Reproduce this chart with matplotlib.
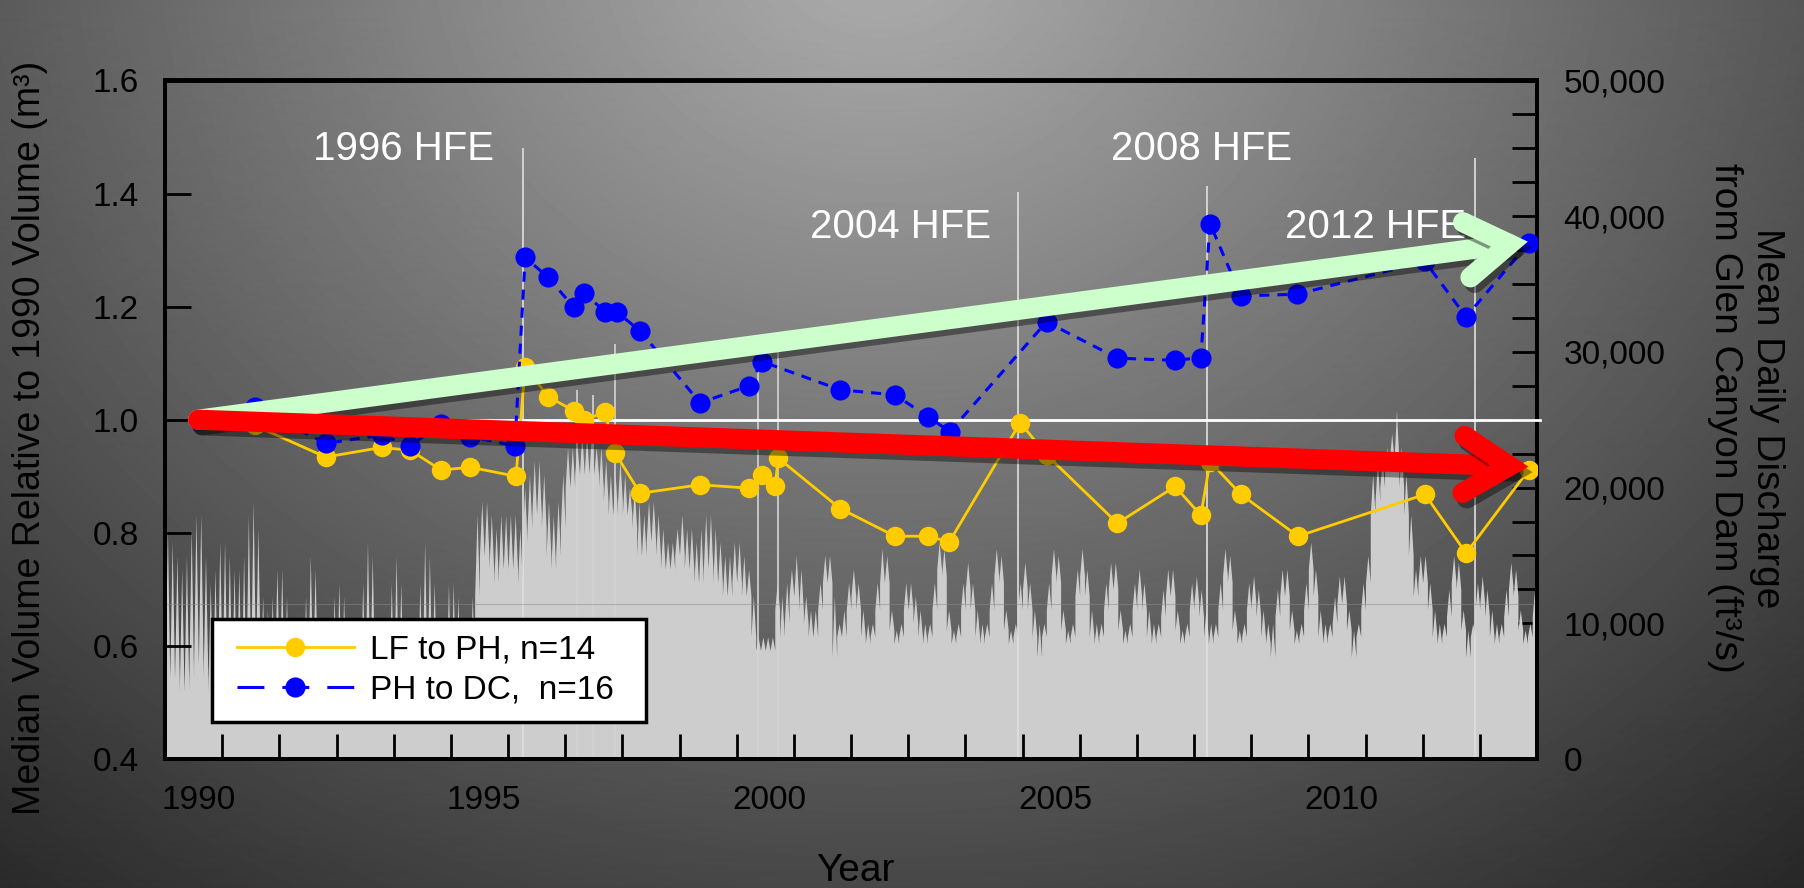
import numpy as np
import matplotlib.pyplot as plt
import matplotlib.patheffects as pe
from matplotlib.patches import FancyArrowPatch, Rectangle
from matplotlib.lines import Line2D
from matplotlib.ticker import FuncFormatter

plt.rcParams['font.family'] = ['Liberation Sans', 'DejaVu Sans']

# ---- median sand volume relative to 1990 ----
lf_ph_year = [1990.58, 1991.57, 1992.81, 1993.79, 1994.29, 1994.83, 1995.34, 1996.14, 1996.30,
              1996.70, 1997.15, 1997.33, 1997.70, 1997.87, 1998.31, 1999.36, 2000.22, 2000.44,
              2000.67, 2000.73, 2001.81, 2002.77, 2003.35, 2003.72, 2004.96, 2005.42, 2006.66,
              2007.67, 2008.12, 2008.28, 2008.82, 2009.82, 2012.04, 2012.76, 2013.86]
lf_ph_vol = [1.000, 0.990, 0.934, 0.951, 0.946, 0.911, 0.916, 0.900, 1.094,
             1.041, 1.016, 1.000, 1.013, 0.942, 0.870, 0.885, 0.879, 0.902,
             0.883, 0.932, 0.843, 0.794, 0.794, 0.784, 0.995, 0.938, 0.817,
             0.882, 0.831, 0.926, 0.868, 0.794, 0.868, 0.764, 0.912]

ph_dc_year = [1990.58, 1991.57, 1992.81, 1993.79, 1994.29, 1994.83, 1995.34, 1996.12, 1996.30,
              1996.70, 1997.15, 1997.33, 1997.70, 1997.90, 1998.31, 1999.36, 2000.22, 2000.44,
              2001.81, 2002.77, 2003.35, 2003.73, 2005.42, 2006.66, 2007.67, 2008.12, 2008.28,
              2008.82, 2009.81, 2012.04, 2012.76, 2013.86]
ph_dc_vol = [1.000, 1.023, 0.958, 0.973, 0.954, 0.993, 0.970, 0.954, 1.287,
             1.252, 1.199, 1.224, 1.191, 1.191, 1.157, 1.030, 1.060, 1.103,
             1.053, 1.044, 1.005, 0.979, 1.173, 1.109, 1.105, 1.110, 1.347,
             1.219, 1.222, 1.280, 1.182, 1.313]

# trend arrows (start / end in year, relative volume)
trend_start = (1990.58, 1.0)
trend_up_end = (2013.84, 1.315)
trend_down_end = (2013.85, 0.917)

# ---- Glen Canyon Dam discharge (1000 ft3/s), Jan..Dec of each year ----
# flow level held through each month
q_level_1990_1995 = [
    6, 6, 6, 5, 5, 6, 7, 7, 6, 5, 5, 6,               # 1990
    6, 6, 5, 5, 5, 6, 7, 7, 5, 5, 5, 6,               # 1991
    5, 5, 5, 5, 5, 5, 6, 6, 5, 5, 5, 5,               # 1992
    5, 5, 5, 5, 5, 5, 6, 6, 5, 5, 5, 5,               # 1993
    5, 5, 5, 5, 5, 5, 6, 6, 6, 5, 5, 5,               # 1994
    5, 5, 5, 5, 6, 12, 15, 15, 14, 13, 14, 14]        # 1995
q_level_1996_2001 = [
    14, 14, 13, 16, 17, 18, 18, 17, 15, 14, 15, 17,   # 1996
    20, 20, 21, 21, 21, 21, 21, 20, 19, 18, 18, 19,   # 1997
    18, 18, 17, 15, 15, 16, 16, 15, 14, 14, 14, 15,   # 1998
    15, 14, 14, 13, 13, 14, 14, 13, 13, 12, 12, 13,   # 1999
    13, 12, 12, 9, 8, 8, 8, 8, 11, 9, 10, 12,         # 2000
    12, 11, 10, 9, 9, 11, 13, 13, 7.5, 9, 9, 11]      # 2001
q_level_2002_2007 = [
    12, 11, 9, 8.5, 9, 11, 13, 13, 9.5, 8.5, 9, 11,      # 2002
    11, 10, 9, 8.5, 9, 11, 14, 13.5, 9.5, 8.5, 9, 11,    # 2003
    12.5, 11, 9, 8.5, 9, 11, 13.5, 13, 9.5, 8.5, 9, 11,  # 2004
    12.5, 11, 9, 7.5, 9, 11, 13.5, 13, 9.5, 8.5, 9, 12,  # 2005
    13.5, 12, 9, 8.5, 9, 11, 12.5, 12.5, 9.5, 8.5, 9, 11,  # 2006
    12, 11, 9, 8.5, 9, 10.5, 12, 12, 9.5, 8.5, 9, 11]    # 2007
q_level_2008_2013 = [
    11.5, 10.5, 9, 8.5, 9, 11, 13.5, 13, 9.5, 8.5, 9, 11,  # 2008
    11.5, 10.5, 9, 8.5, 7.5, 10.5, 12, 12, 9.5, 8.5, 9, 11,  # 2009
    14, 12, 9, 8.5, 9, 10, 11.5, 11.5, 9.5, 7.5, 9, 11,    # 2010
    13, 18, 19, 20, 21, 22, 22, 20, 18, 15, 12, 13,        # 2011
    13, 11, 9, 8.5, 9, 10.5, 13, 12.5, 9.5, 7.5, 9, 11,    # 2012
    11.5, 10.5, 9, 8.5, 9, 10.5, 12.5, 12, 9.5, 8.5, 9, 10.5]  # 2013

# highest daily flow reached inside each month
q_peak_1990_1995 = [
    17, 16, 15, 14, 15, 17, 18, 18, 15, 13, 14, 16,
    16, 15, 14, 14, 15, 18, 19, 17, 12, 11, 12, 14,
    14, 12, 10, 9, 10, 12, 15, 14, 10, 9, 10, 12,
    13, 12, 10, 9, 10, 13, 16, 15, 10, 9, 10, 13,
    15, 13, 10, 9, 10, 13, 16, 15, 13, 9, 10, 13,
    13, 12, 10, 10, 12, 18, 19, 19, 18, 17, 18, 18]
q_peak_1996_2001 = [
    18, 18, 17, 20, 21, 22, 22, 21, 19, 18, 19, 21,
    23, 23, 23, 24, 24, 24, 23, 23, 22, 21, 21, 22,
    21, 20, 20, 19, 18, 19, 19, 18, 17, 16, 16, 17,
    18, 17, 17, 16, 17, 18, 18, 17, 16, 15, 15, 16,
    16, 15, 14, 12, 9, 9, 9, 9, 13, 12, 13, 14,
    15, 14, 12, 11, 11, 13, 15, 15, 12, 10, 11, 13]
q_peak_2002_2007 = [
    14, 13, 11, 10, 10, 13, 15.5, 15, 11, 9.5, 10, 13,
    13, 12, 11, 10, 10, 13, 16, 15.5, 11, 9.5, 10, 13,
    14.5, 13, 11, 10, 10, 13, 15.5, 15, 11, 9.5, 10, 13,
    14.5, 13, 11, 10, 10, 13, 15.5, 15, 11, 9.5, 10, 14,
    15.5, 14, 11, 10, 10, 13, 14.5, 14.5, 11, 9.5, 10, 13,
    14, 13, 11, 10, 10, 12.5, 14, 14, 11, 9.5, 10, 13]
q_peak_2008_2013 = [
    13.5, 12.5, 11, 10, 10, 13, 15.5, 15, 11, 9.5, 10, 13,
    13.5, 12.5, 11, 10, 10, 12.5, 14, 14, 11, 9.5, 10, 13,
    16, 14, 11, 10, 10, 12, 13.5, 13.5, 11, 9.5, 10, 13,
    15, 21, 22, 22, 23, 24, 25.7, 23, 21, 18, 14, 15,
    15, 13, 11, 10, 10, 12.5, 15, 14.5, 11, 9.5, 10, 13,
    13.5, 12.5, 11, 10, 10, 12.5, 14.5, 14, 11, 9.5, 10, 12.5]

# short high-flow spikes (HFEs and others), year and peak ft3/s
hfe_year = [1996.26, 2004.93, 2008.22, 2012.92]
hfe_peak = [45000, 41800, 42200, 44300]
spike_year = [1997.20, 1997.49, 1997.87, 2000.37, 2000.72]
spike_peak = [27200, 26800, 30600, 29400, 30100]

hfe_labels = ['1996 HFE', '2004 HFE', '2008 HFE', '2012 HFE']
hfe_label_x = [1994.17, 2002.86, 2008.14, 2011.18]
hfe_label_y = [1.459, 1.322, 1.459, 1.322]

x_label_years = [1990, 1995, 2000, 2005, 2010]

# ---------------------------------------------------------------
W, H = 1804, 888
fig = plt.figure(figsize=(W / 100, H / 100), dpi=100)

# grey radial background
yy, xx = np.mgrid[0:H, 0:W]
dist = np.hypot(xx - 880, (yy + 60) * 1.15)
shade = np.clip(175 - 0.095 * dist, 30, 200) / 255
bg = fig.add_axes([0, 0, 1, 1])
bg.imshow(shade, cmap='gray', vmin=0, vmax=1, aspect='auto', extent=(0, 1, 0, 1))
bg.axis('off')
bg.set_zorder(-10)

rect = [165 / W, (H - 759) / H, 1372 / W, 678.5 / H]
ax = fig.add_axes(rect)
ax2 = ax.twinx()
ax.set_zorder(2)
ax2.set_zorder(1)
ax.patch.set_visible(False)
ax2.patch.set_visible(False)

# discharge hydrograph on right axis: each month holds its level with one peak
q_level = np.array(q_level_1990_1995 + q_level_1996_2001 + q_level_2002_2007 + q_level_2008_2013) * 1000
q_peak = np.array(q_peak_1990_1995 + q_peak_1996_2001 + q_peak_2002_2007 + q_peak_2008_2013) * 1000
t0 = 1990 + np.arange(len(q_level)) / 12
xs = np.column_stack([t0, t0 + 1 / 24, t0 + 1 / 12]).ravel()
ys = np.column_stack([q_level, q_peak, q_level]).ravel()
ax2.fill_between(xs, 0, ys, color='#cdcdcd', lw=0, zorder=2)
ax2.vlines(spike_year, 0, spike_peak, color='#d4d4d4', lw=1.2, zorder=2)
ax2.vlines(hfe_year, 0, hfe_peak, color='#e0e0e0', lw=1.2, zorder=2)
ax2.axhline(11400, color='#8a8a8a', lw=0.8, alpha=0.5, zorder=3)

ax2.set_ylim(0, 50000)
ax2.set_yticks(range(0, 50001, 10000))
ax2.set_yticks(range(0, 50001, 2500), minor=True)
ax2.yaxis.set_major_formatter(FuncFormatter(lambda v, p: f'{int(v):,}'))
ax2.tick_params(axis='y', which='both', direction='in', length=18, width=2, labelsize=24, pad=19)

# white reference line at 1.0
ax.plot([1990.45, 2014.05], [1.0, 1.0], color='white', lw=2, zorder=3, clip_on=False)

gold_line, = ax.plot(lf_ph_year, lf_ph_vol, '-o', color='#FFCC00', lw=2, ms=13, zorder=5)
ax.plot(ph_dc_year, ph_dc_vol, '--o', color='#0000FF', lw=2.2, ms=13.5, dashes=(3.3, 2.6), zorder=6)

for txt, x, y in zip(hfe_labels, hfe_label_x, hfe_label_y):
    ax.text(x, y, txt, color='white', fontsize=29, ha='center', va='baseline', zorder=4)


def trend_arrow(end, color, lw, hl, hw, z):
    arr = FancyArrowPatch(trend_start, end, arrowstyle=f'->,head_length={hl},head_width={hw}',
                          mutation_scale=1, lw=lw, color=color, capstyle='round', joinstyle='miter',
                          shrinkA=0, shrinkB=0, zorder=z,
                          path_effects=[pe.SimpleLineShadow(offset=(3, -4), shadow_color='black', alpha=0.4),
                                        pe.Normal()])
    ax.add_patch(arr)


trend_arrow(trend_up_end, '#CCFFCC', 14.5, 31, 20, 10)
trend_arrow(trend_down_end, '#FF0000', 14.5, 33, 20.5, 11)

ax.set_xlim(1990, 2014)
ax.set_ylim(0.4, 1.6)
ax.set_yticks([0.4, 0.6, 0.8, 1.0, 1.2, 1.4, 1.6])
ax.yaxis.set_major_formatter(FuncFormatter(lambda v, p: f'{v:.1f}'))
ax.tick_params(axis='y', direction='in', length=19, width=2, labelsize=24, pad=19)
ax.set_xticks([y + 0.58 for y in x_label_years])
ax.set_xticklabels([str(y) for y in x_label_years])
ax.set_xticks(range(1990, 2015), minor=True)
ax.tick_params(axis='x', which='major', length=0, labelsize=24, pad=19)
ax.tick_params(axis='x', which='minor', direction='in', length=18, width=2)

for a in (ax, ax2):
    for s in a.spines.values():
        s.set_linewidth(2.8)
        s.set_color('black')

# legend: white box drawn separately so the padding can match the original
ax.add_patch(Rectangle((47 / 1372, 37 / 678.5), 434 / 1372, 103 / 678.5, transform=ax.transAxes,
                       facecolor='white', edgecolor='black', lw=2.5, zorder=19))
blue_handle = Line2D([], [], color='#0000FF', lw=2.2, ls='--', dashes=(8.8, 5.9), marker='o', ms=13.5)
leg = ax.legend([gold_line, blue_handle], ['LF to PH, n=14', 'PH to DC,  n=16'],
                loc='center left', bbox_to_anchor=(72 / 1372, 89 / 678.5), borderaxespad=0,
                frameon=False, fontsize=24, borderpad=0,
                handlelength=3.5, handletextpad=0.5, labelspacing=0.25)
leg.set_zorder(20)

fig.text(30 / W, 1 - 438 / H, 'Median Volume Relative to 1990 Volume (m³)',
         rotation=90, ha='center', va='center', fontsize=27)
fig.text(1746 / W, 1 - 418 / H, 'Mean Daily Discharge\nfrom Glen Canyon Dam (ft³/s)',
         rotation=270, ha='center', va='center', multialignment='center', fontsize=28, linespacing=1.2)
fig.text(855 / W, (H - 880.5) / H, 'Year', ha='center', va='baseline', fontsize=28)

fig.savefig('out.png', dpi=100)
